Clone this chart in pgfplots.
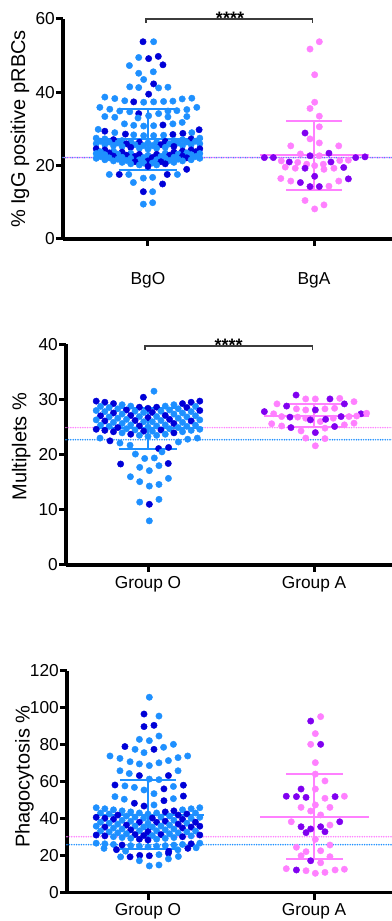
\documentclass[border=0pt]{standalone}
\usepackage{fontspec}
\setmainfont{Liberation Sans}
\usepackage{pgfplots}
\pgfplotsset{compat=1.18}
\definecolor{lb}{RGB}{30,144,255}
\definecolor{db}{RGB}{0,0,215}
\definecolor{pk}{RGB}{255,128,255}
\definecolor{pu}{RGB}{128,0,240}
\definecolor{brk}{RGB}{60,60,60}
\pgfplotsset{
  panel/.style={
    scale only axis, anchor=south west, clip=false,
    axis x line=bottom, axis y line=left,
    axis line style={line width=3.3pt,-},
    xtick={0,1}, tick align=outside,
    major tick length=7pt,
    tick style={black,line width=3pt},
    /pgf/number format/assume math mode=true,
    ticklabel style={font=\fontsize{17.3}{20}\selectfont},
    yticklabel style={inner sep=1pt},
    xticklabel style={inner sep=2pt},
    label style={font=\fontsize{20}{24}\selectfont},
    ymin=0, xmax=1.518,
  },
  swO/.style={only marks, scatter, scatter src=explicit symbolic, mark=*, mark size=3.2pt,
    scatter/classes={a={mark=*,lb},b={mark=*,db}}},
  swA/.style={only marks, scatter, scatter src=explicit symbolic, mark=*, mark size=3.2pt,
    scatter/classes={c={mark=*,pk},d={mark=*,pu}}},
  msd/.style={line width=2pt, no markers, forget plot},
  dotl/.style={line width=1.7pt, line cap=round, dash pattern=on 0pt off 2.4pt, no markers, forget plot},
  brkt/.style={brk, line width=1.1pt, no markers, forget plot},
}
\begin{document}
\begin{tikzpicture}
\useasboundingbox (0,0) rectangle (391pt,921pt);
% ---------------- Panel 1 ----------------
\begin{axis}[panel, at={(63pt,682pt)}, width=337pt, height=220pt,
  xmin=-0.512, ymax=60, ytick={0,20,40,60},
  xticklabels={BgO,BgA}, xticklabel style={yshift=-24pt},
  ylabel={\% IgG positive pRBCs},
  ylabel style={at={(axis description cs:-0.1276,0.5)}, anchor=center}]
\addplot[dotl, lb] coordinates {(-0.512,22.2)(1.518,22.2)};
\addplot[dotl, pk, dash phase=1.2pt] coordinates {(-0.512,22.2)(1.518,22.2)};
\addplot[swO] coordinates {
(-0.03,53.8)[b] (0.034,53.8)[a]
(-0.056,49.5)[a] (0.004,49.2)[b] (0.062,49.8)[b]
(-0.112,47.3)[a] (0.09,47.5)[b]
(-0.056,45.2)[a] (0.032,45.6)[a]
(-0.026,43.5)[a] (0.034,42.3)[b]
(-0.11,41.5)[a] (-0.056,41.3)[a] (0.064,41.2)[a] (0.12,41.4)[a]
(0.004,39.5)[b]
(-0.26,38.7)[a] (-0.2,38.3)[a] (-0.14,37.7)[a] (-0.086,37.4)[b] (-0.026,37.3)[a] (0.034,37.4)[a] (0.094,37.5)[a] (0.15,37.6)[a] (0.206,38.2)[a] (0.264,38.4)[a]
(-0.29,35.9)[a] (-0.23,35.4)[a] (-0.17,34.9)[a] (-0.11,34.7)[a] (-0.056,34.2)[b] (0.064,34.2)[a] (0.12,34.9)[a] (0.174,35.0)[a] (0.234,35.3)[a] (0.294,35.9)[a]
(-0.26,33.4)[a] (-0.2,33.2)[a] (-0.06,33.0)[a] (0.004,33.6)[a] (0.12,33.3)[a] (0.234,33.4)[a]
(-0.142,31.4)[a] (-0.086,31.0)[a] (-0.026,30.8)[a] (0.034,30.9)[a] (0.09,31.1)[b] (0.15,31.4)[a] (0.206,31.8)[a]
(-0.3,29.9)[a] (-0.26,29.4)[b] (-0.2,29.0)[a] (-0.136,28.6)[b] (-0.086,28.4)[a] (-0.026,28.2)[a] (0.034,28.2)[a] (0.094,28.3)[a] (0.15,28.5)[b] (0.21,28.8)[b] (0.264,29.0)[a] (0.308,29.8)[b]
(-0.312,27.5)[a] (-0.26,27.3)[a] (-0.208,27.1)[b] (-0.156,26.85)[a] (-0.104,26.6)[a] (-0.052,26.4)[b] (0,26.2)[a] (0.052,26.4)[a] (0.104,26.6)[b] (0.156,26.85)[a] (0.208,27.1)[a] (0.26,27.3)[b] (0.312,27.5)[a]
(-0.286,26.68)[a] (-0.234,26.44)[a] (-0.182,26.2)[a] (-0.13,25.95)[b] (-0.078,25.71)[a] (-0.026,25.47)[a] (0.026,25.47)[a] (0.078,25.71)[b] (0.13,25.95)[a] (0.182,26.2)[a] (0.234,26.44)[a] (0.286,26.68)[a]
(-0.312,26.0)[a] (-0.26,25.75)[a] (-0.208,25.5)[a] (-0.156,25.25)[a] (-0.104,25.0)[b] (-0.052,24.75)[a] (0,24.5)[a] (0.052,24.75)[a] (0.104,25.0)[a] (0.156,25.25)[b] (0.208,25.5)[a] (0.26,25.75)[a] (0.312,26.0)[a]
(-0.312,24.6)[b] (-0.26,24.3)[b] (-0.208,24.0)[a] (-0.156,23.7)[b] (-0.104,23.4)[a] (-0.052,23.1)[b] (0,22.8)[a] (0.052,23.1)[b] (0.104,23.4)[a] (0.156,23.7)[b] (0.208,24.0)[b] (0.26,24.3)[b] (0.312,24.6)[b]
(-0.286,23.79)[a] (-0.234,23.48)[b] (-0.182,23.16)[a] (-0.13,22.84)[b] (-0.078,22.52)[b] (-0.026,22.21)[a] (0.026,22.21)[b] (0.078,22.52)[a] (0.13,22.84)[b] (0.182,23.16)[a] (0.234,23.48)[a] (0.286,23.79)[b]
(-0.312,23.3)[a] (-0.26,23.0)[a] (-0.208,22.6)[b] (-0.156,22.3)[a] (-0.104,22.0)[a] (-0.052,21.6)[a] (0,21.3)[b] (0.052,21.6)[a] (0.104,22.0)[a] (0.156,22.3)[a] (0.208,22.6)[b] (0.26,23.0)[a] (0.312,23.3)[a]
(-0.286,22.47)[a] (-0.234,22.13)[a] (-0.182,21.78)[a] (-0.13,21.42)[a] (-0.078,21.07)[b] (-0.026,20.72)[a] (0.026,20.72)[a] (0.078,21.07)[b] (0.13,21.42)[a] (0.182,21.78)[a] (0.234,22.13)[b] (0.286,22.47)[a]
(-0.312,22.0)[a] (-0.26,21.6)[a] (-0.208,21.3)[a] (-0.156,20.9)[a] (-0.104,20.5)[a] (-0.052,20.2)[a] (0,19.8)[b] (0.052,20.2)[a] (0.104,20.5)[b] (0.156,20.9)[a] (0.208,21.3)[a] (0.26,21.6)[a] (0.312,22.0)[a]
(-0.233,17.6)[a] (-0.173,17.6)[b] (-0.116,17.6)[a] (0.116,17.6)[b] (0.177,17.6)[a] (0.233,19.0)[b]
(-0.088,15.4)[a] (-0.028,16.6)[a] (0.028,16.8)[a] (0.088,15.0)[b]
(-0.028,12.9)[b] (0.028,12.9)[a]
(-0.028,9.5)[a] (0.028,9.9)[a]
};
\addplot[swA] coordinates {
(1.032,53.8)[c] (0.976,51.8)[c] (1.004,44.8)[c] (1.004,37.3)[c] (0.976,35.6)[c] (1.032,33.5)[c] (1.032,30.6)[c]
(0.946,28.9)[d] (0.976,27.3)[c] (1.032,26.2)[c] (0.86,25.4)[c] (1.149,25.4)[c] (0.918,23.2)[c] (0.976,22.7)[d]
(1.032,22.7)[c] (1.09,23.4)[d] (0.701,22.2)[d] (0.755,22.2)[d] (1.251,22.2)[d] (1.307,22.4)[d]
(0.803,21.3)[c] (0.851,21.0)[d] (0.902,20.9)[c] (0.956,20.4)[c] (1.004,20.0)[c] (1.056,20.4)[c] (1.102,21.0)[d]
(1.155,21.4)[c] (1.207,21.5)[c] (0.827,19.6)[c] (0.887,19.3)[c] (0.946,19.3)[d] (1.06,19.0)[c] (1.12,19.3)[c]
(1.179,19.5)[d] (1.004,17.1)[d] (0.8,16.5)[c] (0.86,15.8)[c] (0.918,15.4)[d] (0.976,14.3)[d] (1.032,14.3)[d]
(1.09,14.4)[c] (1.149,15.8)[c] (1.207,16.4)[d] (0.946,10.5)[c] (1.004,8.2)[c] (1.06,9.3)[c]
};
\addplot[msd, lb] coordinates {(-0.31,27.2)(0.33,27.2)};
\addplot[msd, lb] coordinates {(0,18.9)(0,35.5)};
\addplot[msd, lb] coordinates {(-0.175,35.5)(0.175,35.5)};
\addplot[msd, lb] coordinates {(-0.175,18.9)(0.175,18.9)};
\addplot[msd, pk] coordinates {(0.674,22.8)(1.33,22.8)};
\addplot[msd, pk] coordinates {(1,13.4)(1,32.3)};
\addplot[msd, pk] coordinates {(0.833,32.3)(1.167,32.3)};
\addplot[msd, pk] coordinates {(0.833,13.4)(1.167,13.4)};
\addplot[brkt] coordinates {(-0.012,58.9)(-0.012,60)(0.99,60)(0.99,58.9)};
\node[font=\fontsize{18}{18}\selectfont\bfseries, anchor=base, yshift=-5.5pt] at (axis cs:0.494,60) {****};
\end{axis}
% ---------------- Panel 2 ----------------
\begin{axis}[panel, at={(66pt,356pt)}, width=334pt, height=220.7pt,
  xmin=-0.494, ymax=40, ytick={0,10,20,30,40},
  xticklabels={Group O,Group A}, xticklabel style={yshift=-2pt},
  ylabel={Multiplets \%},
  ylabel style={at={(axis description cs:-0.134,0.536)}, anchor=center}]
\addplot[dotl, pk] coordinates {(-0.494,24.9)(1.518,24.9)};
\addplot[dotl, lb] coordinates {(-0.494,22.7)(1.518,22.7)};
\addplot[swO] coordinates {
(0.036,31.5)[a] (-0.028,30.4)[b]
(-0.312,29.7)[b] (-0.26,29.5)[b] (-0.208,29.25)[b] (-0.156,29.05)[a] (-0.104,28.8)[a] (-0.052,28.6)[b] (0,28.4)[b] (0.052,28.6)[b] (0.104,28.8)[a] (0.156,29.05)[a] (0.208,29.25)[b] (0.26,29.5)[b] (0.312,29.7)[b]
(-0.286,28.74)[a] (-0.234,28.53)[a] (-0.182,28.31)[a] (-0.13,28.09)[b] (-0.078,27.88)[a] (-0.026,27.66)[a] (0.026,27.66)[b] (0.078,27.88)[a] (0.13,28.09)[a] (0.182,28.31)[a] (0.234,28.53)[b] (0.286,28.74)[a]
(-0.312,28.0)[a] (-0.26,27.8)[a] (-0.208,27.55)[b] (-0.156,27.35)[a] (-0.104,27.1)[b] (-0.052,26.9)[a] (0,26.7)[b] (0.052,26.9)[a] (0.104,27.1)[b] (0.156,27.35)[a] (0.208,27.55)[a] (0.26,27.8)[a] (0.312,28.0)[b]
(-0.286,27.04)[b] (-0.234,26.83)[a] (-0.182,26.61)[a] (-0.13,26.39)[a] (-0.078,26.18)[b] (-0.026,25.96)[a] (0.026,25.96)[a] (0.078,26.18)[a] (0.13,26.39)[b] (0.182,26.61)[a] (0.234,26.83)[a] (0.286,27.04)[a]
(-0.312,26.3)[a] (-0.26,26.1)[b] (-0.208,25.85)[a] (-0.156,25.65)[a] (-0.104,25.4)[a] (-0.052,25.2)[b] (0,25.0)[a] (0.052,25.2)[a] (0.104,25.4)[a] (0.156,25.65)[b] (0.208,25.85)[a] (0.26,26.1)[b] (0.312,26.3)[a]
(-0.286,25.34)[a] (-0.234,25.13)[a] (-0.182,24.91)[b] (-0.13,24.69)[a] (-0.078,24.48)[a] (-0.026,24.26)[b] (0.026,24.26)[a] (0.078,24.48)[b] (0.13,24.69)[a] (0.182,24.91)[a] (0.234,25.13)[a] (0.286,25.34)[a]
(-0.312,24.6)[b] (-0.26,24.4)[b] (-0.208,24.15)[b] (-0.156,23.95)[a] (-0.104,23.7)[b] (-0.052,23.5)[a] (0,23.3)[a] (0.052,23.5)[a] (0.104,23.7)[a] (0.156,23.95)[b] (0.208,24.15)[a] (0.26,24.4)[a] (0.312,24.6)[a]
(-0.289,23.0)[a] (-0.229,22.5)[b] (-0.169,22.1)[a] (-0.108,21.7)[a] (0.183,22.3)[a] (0.239,22.8)[a] (0.297,23.0)[a]
(0.064,21.1)[b] (0.124,21.3)[b] (0.084,20.5)[a] (-0.076,20.1)[a] (-0.02,19.3)[a] (0.038,19.4)[a]
(-0.165,18.3)[b] (-0.05,17.7)[a] (0.008,17.1)[a] (0.066,18.0)[a] (0.122,18.4)[b]
(-0.106,16.0)[a] (-0.05,15.1)[a] (0.008,14.3)[a] (0.066,14.6)[a] (0.123,15.7)[a]
(-0.05,11.4)[a] (0.008,11.0)[b] (0.066,11.9)[a] (0.008,8.0)[a]
};
\addplot[swA] coordinates {
(0.892,30.8)[d] (0.95,30.1)[c] (1.008,30.1)[c] (1.096,30.1)[d] (1.155,30.2)[c] (1.241,29.6)[c] (0.777,29.2)[c]
(0.835,28.8)[d] (1.183,29.2)[d] (0.894,28.3)[c] (0.95,28.1)[c] (1.008,28.1)[d] (1.066,28.3)[c] (1.124,28.4)[c]
(0.701,27.8)[d] (0.757,27.4)[c] (1.283,27.4)[d] (1.317,27.5)[c] (0.805,26.9)[c] (0.855,26.8)[d] (0.902,26.8)[c]
(0.95,26.6)[c] (0.978,26.3)[d] (1.038,26.0)[c] (1.07,26.4)[d] (1.116,26.6)[c] (1.163,26.9)[d] (1.211,26.9)[c]
(1.257,27.0)[c] (0.745,25.6)[c] (0.805,25.2)[c] (0.861,24.9)[d] (0.922,24.3)[c] (1.008,24.0)[d] (1.066,24.8)[c]
(1.124,25.1)[d] (1.183,25.4)[c] (1.241,25.7)[c] (0.95,23.0)[c] (1.066,22.9)[c] (1.008,21.6)[c]
};
\addplot[msd, lb] coordinates {(-0.31,24.8)(0.33,24.8)};
\addplot[msd, lb] coordinates {(0,21.1)(0,28.5)};
\addplot[msd, lb] coordinates {(-0.175,28.5)(0.175,28.5)};
\addplot[msd, lb] coordinates {(-0.175,21.1)(0.175,21.1)};
\addplot[msd, pk] coordinates {(0.7,27.0)(1.33,27.0)};
\addplot[msd, pk] coordinates {(1,24.95)(1,29.1)};
\addplot[msd, pk] coordinates {(0.838,29.1)(1.172,29.1)};
\addplot[msd, pk] coordinates {(0.838,24.95)(1.172,24.95)};
\addplot[brkt] coordinates {(-0.018,39.0)(-0.018,39.7)(0.99,39.7)(0.99,39.0)};
\node[font=\fontsize{18}{18}\selectfont\bfseries, anchor=base, yshift=-5.5pt] at (axis cs:0.486,39.7) {****};
\end{axis}
% ---------------- Panel 3 ----------------
\begin{axis}[panel, at={(67pt,28.3pt)}, width=333pt, height=221.7pt,
  xmin=-0.488, ymax=120, ytick={0,20,40,60,80,100,120},
  xticklabels={Group O,Group A}, xticklabel style={yshift=-2pt},
  ylabel={Phagocytosis \%},
  ylabel style={at={(axis description cs:-0.128,0.523)}, anchor=center}]
\addplot[dotl, pk] coordinates {(-0.488,30.3)(1.518,30.3)};
\addplot[dotl, lb] coordinates {(-0.488,26.0)(1.518,26.0)};
\addplot[swO] coordinates {
(0.008,105.8)[a] (-0.024,96.7)[b] (0.066,95.6)[a] (-0.024,89.9)[b] (0.036,90.6)[b]
(-0.052,83.0)[a] (0.008,82.3)[a] (0.066,84.8)[a]
(-0.139,79.1)[b] (-0.078,77.6)[a] (-0.024,75.8)[a] (0.036,77.6)[b] (0.094,78.7)[a] (0.153,80.3)[a]
(-0.229,74.0)[a] (-0.169,72.7)[a] (-0.108,70.9)[a] (-0.052,69.7)[a] (0.008,68.8)[a] (0.066,70.3)[a] (0.123,71.5)[a] (0.181,73.1)[a] (0.239,74.0)[a]
(-0.169,66.0)[a] (-0.113,64.5)[a] (-0.052,63.4)[b] (0.008,61.5)[a] (0.066,61.2)[a] (0.123,63.4)[b] (0.181,66.0)[a]
(-0.199,58.3)[b] (-0.139,57.8)[a] (-0.082,57.0)[a] (-0.024,55.6)[a] (0.036,53.6)[a] (0.096,56.2)[b] (0.153,57.5)[a] (0.213,58.2)[b]
(-0.199,52.0)[a] (-0.143,50.6)[a] (-0.082,48.4)[b] (-0.024,46.9)[b] (0.036,47.5)[a] (0.096,49.8)[b] (0.153,50.9)[a] (0.213,52.3)[b]
(-0.312,46.0)[a] (-0.26,45.43)[a] (-0.208,44.87)[a] (-0.156,44.3)[a] (-0.104,43.73)[a] (-0.052,43.17)[a] (0,42.6)[a] (0.052,43.17)[a] (0.104,43.73)[b] (0.156,44.3)[b] (0.208,44.87)[a] (0.26,45.43)[a] (0.312,46.0)[a]
(-0.286,43.13)[a] (-0.234,42.58)[a] (-0.182,42.03)[b] (-0.13,41.48)[a] (-0.078,40.93)[a] (-0.026,40.38)[a] (0.026,40.38)[b] (0.078,40.93)[a] (0.13,41.48)[a] (0.182,42.03)[b] (0.234,42.58)[b] (0.286,43.13)[a]
(-0.312,40.8)[b] (-0.26,40.27)[b] (-0.208,39.73)[b] (-0.156,39.2)[a] (-0.104,38.67)[a] (-0.052,38.13)[b] (0,37.6)[a] (0.052,38.13)[b] (0.104,38.67)[b] (0.156,39.2)[a] (0.208,39.73)[b] (0.26,40.27)[a] (0.312,40.8)[a]
(-0.286,38.14)[a] (-0.234,37.63)[a] (-0.182,37.11)[a] (-0.13,36.59)[b] (-0.078,36.08)[a] (-0.026,35.56)[a] (0.026,35.56)[a] (0.078,36.08)[a] (0.13,36.59)[a] (0.182,37.11)[b] (0.234,37.63)[a] (0.286,38.14)[b]
(-0.312,36.0)[a] (-0.26,35.5)[b] (-0.208,35.0)[a] (-0.156,34.5)[a] (-0.104,34.0)[b] (-0.052,33.5)[a] (0,33.0)[b] (0.052,33.5)[a] (0.104,34.0)[a] (0.156,34.5)[a] (0.208,35.0)[b] (0.26,35.5)[b] (0.312,36.0)[b]
(-0.286,33.36)[a] (-0.234,32.88)[a] (-0.182,32.39)[a] (-0.13,31.91)[a] (-0.078,31.43)[b] (-0.026,30.94)[b] (0.026,30.94)[a] (0.078,31.43)[b] (0.13,31.91)[a] (0.182,32.39)[a] (0.234,32.88)[a] (0.286,33.36)[a]
(-0.312,31.2)[b] (-0.26,30.75)[b] (-0.208,30.3)[a] (-0.156,29.85)[a] (-0.104,29.4)[a] (-0.052,28.95)[b] (0,28.5)[b] (0.052,28.95)[a] (0.104,29.4)[a] (0.156,29.85)[a] (0.208,30.3)[b] (0.26,30.75)[a] (0.312,31.2)[b]
(-0.312,26.8)[a] (-0.26,26.47)[a] (-0.208,26.13)[a] (-0.156,25.8)[b] (-0.104,25.47)[a] (-0.052,25.13)[a] (0,24.8)[a] (0.052,25.13)[a] (0.104,25.47)[a] (0.156,25.8)[a] (0.208,26.13)[a] (0.26,26.47)[b] (0.312,26.8)[a]
(-0.265,24.0)[a] (-0.19,23.3)[b] (-0.135,22.5)[a] (0.125,22.4)[b] (0.18,23.2)[a] (0.24,24.0)[b] (0.29,24.3)[a]
(-0.165,19.4)[a] (-0.108,19.4)[b] (-0.05,20.2)[b] (0.008,20.0)[b] (0.066,20.6)[a] (0.123,21.4)[b] (0.183,19.6)[a]
(-0.052,17.3)[a] (0.123,18.3)[a] (0.008,14.5)[a] (0.066,15.0)[a]
};
\addplot[swA] coordinates {
(1.04,95.3)[c] (0.98,92.9)[d] (1.008,86.1)[c] (0.98,80.3)[c] (1.04,80.3)[d] (1.008,70.4)[c] (1.008,64.2)[c]
(1.066,60.5)[c] (0.922,56.1)[d] (1.008,56.1)[c] (0.833,52.2)[d] (0.894,52.0)[d] (0.952,51.6)[d] (1.066,51.1)[c]
(1.127,52.0)[d] (1.183,52.2)[c] (0.922,46.2)[c] (1.008,47.5)[c] (1.096,46.2)[c] (0.98,44.2)[c] (1.04,42.1)[c]
(0.863,38.4)[c] (1.155,38.4)[d] (1.096,36.6)[c] (0.922,35.7)[d] (0.98,34.5)[d] (0.952,32.5)[d] (1.04,35.7)[d]
(1.066,33.0)[d] (1.008,28.9)[c] (0.894,24.6)[c] (1.096,25.8)[c] (0.952,22.2)[c] (1.04,22.7)[c] (0.922,20.0)[c]
(1.096,19.5)[c] (0.98,17.3)[d] (1.04,16.2)[c] (0.833,13.0)[c] (0.894,12.3)[d] (0.952,11.9)[c] (1.008,10.5)[c]
(1.066,11.0)[c] (1.127,12.3)[c] (1.183,12.7)[c]
};
\addplot[msd, lb] coordinates {(-0.32,42.2)(0.34,42.2)};
\addplot[msd, lb] coordinates {(0,23.8)(0,60.8)};
\addplot[msd, lb] coordinates {(-0.17,60.8)(0.17,60.8)};
\addplot[msd, lb] coordinates {(-0.17,23.8)(0.17,23.8)};
\addplot[msd, pk] coordinates {(0.674,40.8)(1.334,40.8)};
\addplot[msd, pk] coordinates {(1,18.0)(1,64.0)};
\addplot[msd, pk] coordinates {(0.834,64.0)(1.174,64.0)};
\addplot[msd, pk] coordinates {(0.834,18.0)(1.174,18.0)};
\end{axis}
\end{tikzpicture}
\end{document}
